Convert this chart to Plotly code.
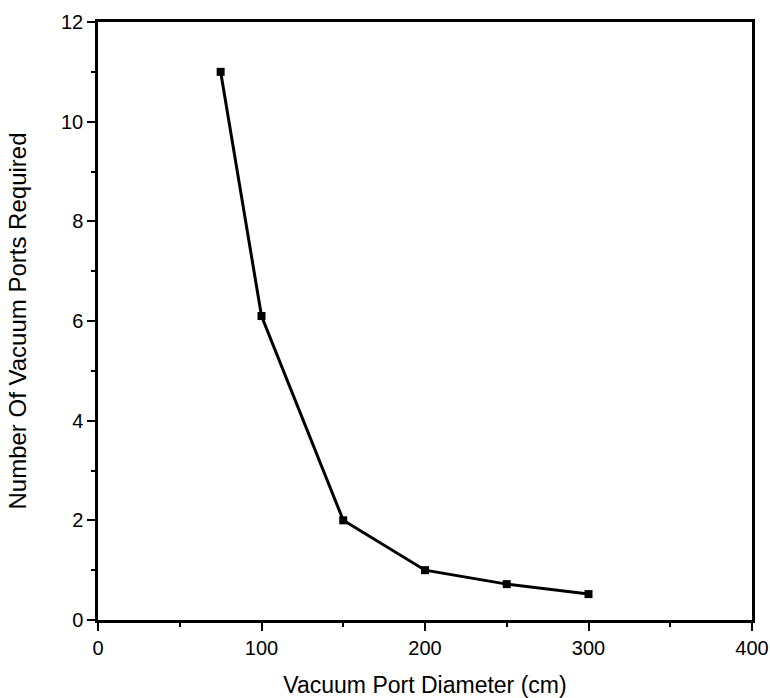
import plotly.graph_objects as go

diameter_cm = [75, 100, 150, 200, 250, 300]
ports_required = [11.0, 6.1, 2.0, 1.0, 0.72, 0.52]

x_tick_vals = [0, 100, 200, 300, 400]
y_tick_vals = [0, 2, 4, 6, 8, 10, 12]

fig = go.Figure()
fig.add_trace(go.Scatter(
    x=diameter_cm, y=ports_required, mode="lines+markers",
    line=dict(color="black", width=3),
    marker=dict(symbol="square", size=8, color="black"),
    showlegend=False,
    cliponaxis=False,
))

tick_font = dict(family="Liberation Sans, Arial, sans-serif", size=20, color="black")
x_title_font = dict(family="Liberation Sans, Arial, sans-serif", size=23, color="black")
y_title_font = dict(family="Liberation Sans, Arial, sans-serif", size=24, color="black")
axis_common = dict(
    showline=True, linecolor="black", linewidth=2.5, mirror=True,
    ticks="outside", ticklen=8, tickwidth=2, tickcolor="black",
    showgrid=False, zeroline=False, tickfont=tick_font, automargin=False,
)
fig.update_xaxes(range=[0, 400], tickvals=x_tick_vals,
                 minor=dict(dtick=50, ticks="outside", ticklen=4, tickwidth=2, tickcolor="black"),
                 title=dict(text="Vacuum Port Diameter (cm)", font=x_title_font, standoff=23),
                 **axis_common)
fig.update_yaxes(range=[0, 12], tickvals=y_tick_vals,
                 minor=dict(dtick=1, ticks="outside", ticklen=4, tickwidth=2, tickcolor="black"),
                 title=dict(text="Number Of Vacuum Ports Required", font=y_title_font, standoff=28),
                 **axis_common)
fig.update_layout(
    width=770, height=698,
    margin=dict(l=98, r=18, t=22, b=78),
    paper_bgcolor="white", plot_bgcolor="white",
    font=tick_font,
)
fig.write_html(
    "out.html",
    config={"displayModeBar": False},
    post_script="document.body.style.margin='0';document.body.style.overflow='hidden';",
)
